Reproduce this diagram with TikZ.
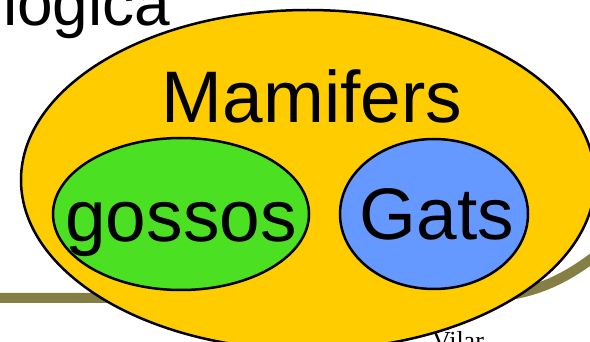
\documentclass[tikz,border=0pt]{standalone}
\usepackage{fontspec}
\setmainfont{Liberation Sans}
\newfontfamily\timesfont{Liberation Serif}
\usetikzlibrary{shapes.geometric}
\definecolor{mamyellow}{HTML}{FFCC00}
\definecolor{gosgreen}{HTML}{4CE022}
\definecolor{gatblue}{HTML}{6699FF}
\definecolor{bandolive}{HTML}{857F45}
\tikzset{
  blob/.style={ellipse,draw=black,line width=2.5pt,inner sep=0pt},
  word/.style={font=\fontsize{73}{80}\selectfont,inner sep=0pt,anchor=base}
}
\begin{document}
\begin{tikzpicture}[x=1pt,y=-1pt]
  \clip (0,0) rectangle (590,342);
  \fill[white] (0,0) rectangle (590,342);
  \draw[bandolive,line width=10pt] (-5,298) -- (470,298) .. controls (525,298) and (562,284) .. (605,248);
  \node[font=\timesfont\fontsize{26}{30}\selectfont,inner sep=0pt,anchor=base] (vilar) at (458,349) {Vilar};
  \node[word,font=\fontsize{64}{70}\selectfont,anchor=base west] (titol) at (3,26) {logica};
  \node[blob,fill=mamyellow,minimum width=574,minimum height=340] (mam) at (308,180) {};
  \node[blob,fill=gosgreen,minimum width=256,minimum height=152] (gos) at (181,214) {};
  \node[blob,fill=gatblue,minimum width=188,minimum height=150] (gat) at (434,214) {};
  \node[word] (mamt) at (312,123) {Mamifers};
  \node[word] (gost) at (181,242) {gossos};
  \node[word] (gatt) at (437,240) {Gats};
\end{tikzpicture}
\end{document}
